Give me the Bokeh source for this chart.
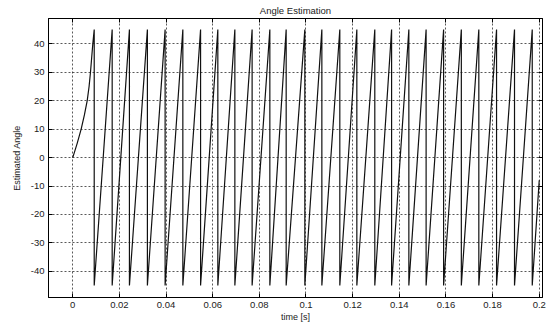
from bokeh.plotting import figure
from bokeh.models import Range1d, FixedTicker, LinearAxis
from bokeh.embed import file_html
from bokeh.resources import INLINE

# ---- data ----
# initial ramp (t in s, angle)
ramp_t = [0.0, 0.0019, 0.0036, 0.0050, 0.0062, 0.0070, 0.0076, 0.0081, 0.0086, 0.0092]
ramp_v = [0, 5, 10, 15, 20, 25, 30, 35, 40, 45]
# times of the wrap-around drops (45 -> -45)
drop_t = [0.0092, 0.0169, 0.0243, 0.0320, 0.0396, 0.0472, 0.0548, 0.0622,
          0.0695, 0.0769, 0.0845, 0.0915, 0.0995, 0.1068, 0.1145, 0.1218,
          0.1295, 0.1367, 0.1441, 0.1515, 0.1590, 0.1666, 0.1741, 0.1817,
          0.1894, 0.1970]
peak_v = 45
trough_v = -45
end_t = 0.2
end_v = -8

x_ticks = [0, 0.02, 0.04, 0.06, 0.08, 0.1, 0.12, 0.14, 0.16, 0.18, 0.2]
x_labels = ["0", "0.02", "0.04", "0.06", "0.08", "0.1", "0.12", "0.14", "0.16", "0.18", "0.2"]
y_ticks = [-40, -30, -20, -10, 0, 10, 20, 30, 40]
y_labels = ["-40", "-30", "-20", "-10", "0", "10", "20", "30", "40"]

# ---- build the sawtooth path from the read values ----
xs = list(ramp_t[:-1])
ys = list(ramp_v[:-1])
for t in drop_t:
    xs += [t, t]
    ys += [peak_v, trough_v]
xs.append(end_t)
ys.append(end_v)

FONT = "Liberation Sans"

p = figure(width=551, height=324, output_backend="svg", toolbar_location=None,
           x_range=Range1d(-0.0104, 0.2014), y_range=Range1d(-49.2, 48.9),
           title="Angle Estimation",
           min_border_left=48, min_border_right=9, min_border_top=4, min_border_bottom=0)

p.line(xs, ys, line_color="#111111", line_width=1.2)

p.title.text_font = FONT
p.title.text_font_size = "9.5px"
p.title.text_font_style = "normal"
p.title.text_color = "#222222"
p.title.align = "center"
p.title.standoff = 5
p.title.offset = 0

p.xaxis.ticker = FixedTicker(ticks=x_ticks)
p.yaxis.ticker = FixedTicker(ticks=y_ticks)
p.xaxis.major_label_overrides = {t: l for t, l in zip(x_ticks, x_labels)}
p.yaxis.major_label_overrides = {t: l for t, l in zip(y_ticks, y_labels)}
p.xaxis.axis_label = "time [s]"
p.yaxis.axis_label = "Estimated Angle"

for ax in (p.xaxis[0], p.yaxis[0]):
    ax.major_label_text_font = FONT
    ax.major_label_text_font_size = "9.5px"
    ax.axis_label_text_font = FONT
    ax.axis_label_text_font_size = "9px"
    ax.axis_label_text_font_style = "normal"
    ax.axis_line_color = "black"
    ax.major_tick_line_color = "black"
    ax.major_tick_in = 4
    ax.major_tick_out = 0
    ax.minor_tick_line_color = None
    ax.major_label_text_color = "#222222"
    ax.axis_label_text_color = "#222222"

p.xaxis.major_label_standoff = 4
p.xaxis.axis_label_standoff = 1
p.yaxis.major_label_standoff = 4
p.yaxis.axis_label_standoff = 6

# inward ticks on the top and right edges (box style)
top_ax = LinearAxis(ticker=FixedTicker(ticks=x_ticks),
                    major_label_overrides={t: "" for t in x_ticks},
                    major_tick_in=4, major_tick_out=0, major_label_standoff=0,
                    minor_tick_line_color=None, axis_line_color="black",
                    major_tick_line_color="black")
right_ax = LinearAxis(ticker=FixedTicker(ticks=y_ticks),
                      major_label_overrides={t: "" for t in y_ticks},
                      major_tick_in=4, major_tick_out=0, major_label_standoff=0,
                      minor_tick_line_color=None, axis_line_color="black",
                      major_tick_line_color="black")
p.add_layout(top_ax, "above")
p.add_layout(right_ax, "right")

p.outline_line_color = "black"
p.outline_line_alpha = 1
p.xgrid.grid_line_color = "black"
p.ygrid.grid_line_color = "black"
p.xgrid.grid_line_dash = "2 2"
p.ygrid.grid_line_dash = "2 2"
p.xgrid.grid_line_alpha = 0.65
p.ygrid.grid_line_alpha = 0.65
p.background_fill_color = "white"
p.border_fill_color = "white"

open("out.html", "w").write(file_html(p, INLINE))
